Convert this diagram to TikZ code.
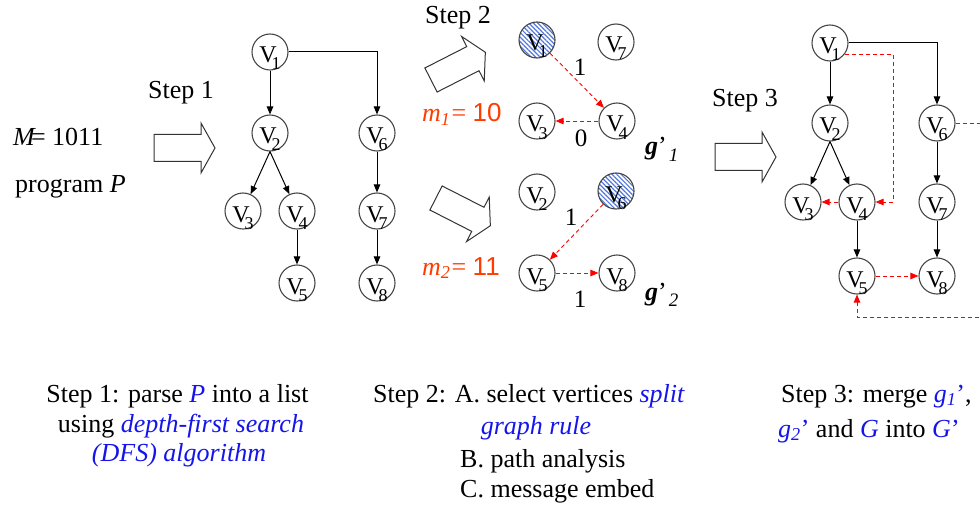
\documentclass[tikz,border=0pt]{standalone}
\usepackage{fontspec}
\setmainfont{Liberation Serif}
\newfontfamily\sansfont{Liberation Sans}
\usetikzlibrary{arrows.meta,patterns.meta}

\definecolor{vxline}{RGB}{70,70,70}
\definecolor{msgred}{RGB}{255,0,0}
\definecolor{mred}{RGB}{255,60,0}
\definecolor{noteblue}{RGB}{20,20,235}
\definecolor{hatchblue}{RGB}{85,120,220}

% vertex label: V with a lowered index that overlaps the circle
\newcommand\vlab[1]{\raisebox{-3pt}[16pt][0pt]{V\kern-5pt\smash{\raisebox{-7pt}{\fontsize{18}{18}\selectfont#1}}}}
\newcommand\bl[1]{{\color{noteblue}#1}}

\begin{document}
\begin{tikzpicture}[x=1pt,y=-1pt,
  every node/.style={font=\fontsize{26}{31}\selectfont},
  txt/.style={inner sep=0pt,anchor=base west},
  ctxt/.style={inner sep=0pt,anchor=base},
  vtx/.style={circle,draw=vxline,line width=1.1pt,minimum size=36pt,inner sep=0pt,
    font=\fontsize{24}{24}\selectfont},
  hatched/.style={vtx,pattern={Lines[angle=-45,distance=3.2pt,line width=1.2pt]},pattern color=hatchblue},
  tree/.style={draw=black,line width=1pt,-{Triangle[length=8pt,width=6.5pt]}},
  msg/.style={draw=msgred,line width=0.9pt,dash pattern=on 4pt off 3pt,
    -{Triangle[length=8pt,width=6.5pt]}},
  elab/.style={inner sep=0pt,font=\fontsize{25}{25}\selectfont},
  blockline/.style={draw=black!80,line width=1pt,fill=white},
  pics/blockarrow/.style={code={
    \draw[blockline] (0,-13.5) -- (47,-13.5) -- (47,-25) -- (61,0) -- (47,25) -- (47,13.5) -- (0,13.5) -- cycle;}}
]
\useasboundingbox (0,0) rectangle (980,508);
\clip (0,0) rectangle (980,508);

% ---------- input and step 1 ----------
\node[txt] (Mval) at (13,146) {\textit{M}\kern-5pt= 1011};
\node[txt] (prog) at (15,193) {program \textit{P}};
\node[txt] (stepA) at (148,99) {Step 1};
\pic at (154,148) {blockarrow};

\node[vtx] (L1) at (270,52) {\vlab{1}};
\node[vtx] (L2) at (270,133) {\vlab{2}};
\node[vtx] (L6) at (377,133) {\vlab{6}};
\node[vtx] (L3) at (243,211) {\vlab{3}};
\node[vtx] (L4) at (297,211) {\vlab{4}};
\node[vtx] (L7) at (377,211) {\vlab{7}};
\node[vtx] (L5) at (297,283) {\vlab{5}};
\node[vtx] (L8) at (377,283) {\vlab{8}};

\draw[tree] (L1) -- (L2);
\draw[tree] (L1.east) -| (L6.north);
\draw[tree] (L2.south) -- (L3);
\draw[tree] (L2.south) -- (L4);
\draw[tree] (L4) -- (L5);
\draw[tree] (L6) -- (L7);
\draw[tree] (L7) -- (L8);

% ---------- step 2: split graphs ----------
\node[txt] (stepB) at (425,24) {Step 2};
\pic[rotate=27] at (431,80) {blockarrow};
\pic[rotate=-27] at (436,198) {blockarrow};

\node[txt,text=mred] (m1) at (422,122) {\textit{m}\textsubscript{\textit{1}}\kern1pt= {\sansfont 10}};
\node[txt,text=mred] (m2) at (422,275) {\textit{m}\textsubscript{\textit{2}}\kern1pt= {\sansfont 11}};

\node[hatched] (A1) at (537,40) {\vlab{1}};
\node[vtx] (A7) at (616,42) {\vlab{7}};
\node[vtx] (A3) at (537,121) {\vlab{3}};
\node[vtx] (A4) at (617,121) {\vlab{4}};
\draw[msg] (A1) -- (A4);
\draw[msg] (A4) -- (A3);
\node[elab] (e11) at (580,67) {1};
\node[elab] (e10) at (581,138) {0};
\node[txt] (g1) at (645,155) {\textbf{\textit{g}}’\kern2pt\raisebox{-6pt}{\fontsize{19}{19}\selectfont\textit{1}}};

\node[vtx] (B2) at (537,192) {\vlab{2}};
\node[hatched] (B6) at (616,191) {\vlab{6}};
\node[vtx] (B5) at (537,273) {\vlab{5}};
\node[vtx] (B8) at (617,273) {\vlab{8}};
\draw[msg] (B6) -- (B5);
\draw[msg] (B5) -- (B8);
\node[elab] (e21) at (571,217) {1};
\node[elab] (e22) at (580,299) {1};
\node[txt] (g2) at (645,300) {\textbf{\textit{g}}’\kern2pt\raisebox{-6pt}{\fontsize{19}{19}\selectfont\textit{2}}};

% ---------- step 3: merged graph ----------
\node[txt] (stepC) at (712,107) {Step 3};
\pic at (715,157) {blockarrow};

\node[vtx] (C1) at (830,43) {\vlab{1}};
\node[vtx] (C2) at (830,123) {\vlab{2}};
\node[vtx] (C6) at (937,123) {\vlab{6}};
\node[vtx] (C3) at (803,202) {\vlab{3}};
\node[vtx] (C4) at (857,202) {\vlab{4}};
\node[vtx] (C7) at (937,202) {\vlab{7}};
\node[vtx] (C5) at (857,276) {\vlab{5}};
\node[vtx] (C8) at (937,276) {\vlab{8}};

\draw[tree] (C1) -- (C2);
\draw[tree] (C1.east) -| (C6.north);
\draw[tree] (C2.south) -- (C3);
\draw[tree] (C2.south) -- (C4);
\draw[tree] (C4) -- (C5);
\draw[tree] (C6) -- (C7);
\draw[tree] (C7) -- (C8);

\coordinate (r1) at (893,202);
\coordinate (r2) at (1000,317);
\draw[msg] (C1.-38) -| (r1) -- (C4.east);
\draw[msg] (C4) -- (C3);
\draw[msg] (C5) -- (C8);
\draw[msg] (C6.east) -| (r2) -| (C5.south);

% ---------- notes ----------
\node[ctxt] (n11) at (177.5,402) {Step 1: parse \bl{\textit{P}} into a list};
\node[ctxt] (n12) at (181,432) {using \bl{\textit{depth-first search}}};
\node[ctxt] (n13) at (179,461) {\bl{\textit{(DFS) algorithm}}};

\node[txt] (n21) at (373,402) {Step 2: A. select vertices \bl{\textit{split}}};
\node[ctxt] (n22) at (536,434) {\bl{\textit{graph rule}}};
\node[txt] (n23) at (460,467) {B. path analysis};
\node[txt] (n24) at (460,497) {C. message embed};

\node[txt] (n31) at (781,402) {Step 3: merge \bl{\textit{g}\textsubscript{\textit{1}}’},};
\node[txt] (n32) at (778,437) {\bl{\textit{g}\textsubscript{\textit{2}}’} and \bl{\textit{G}} into \bl{\textit{G}’}};
\end{tikzpicture}
\end{document}
